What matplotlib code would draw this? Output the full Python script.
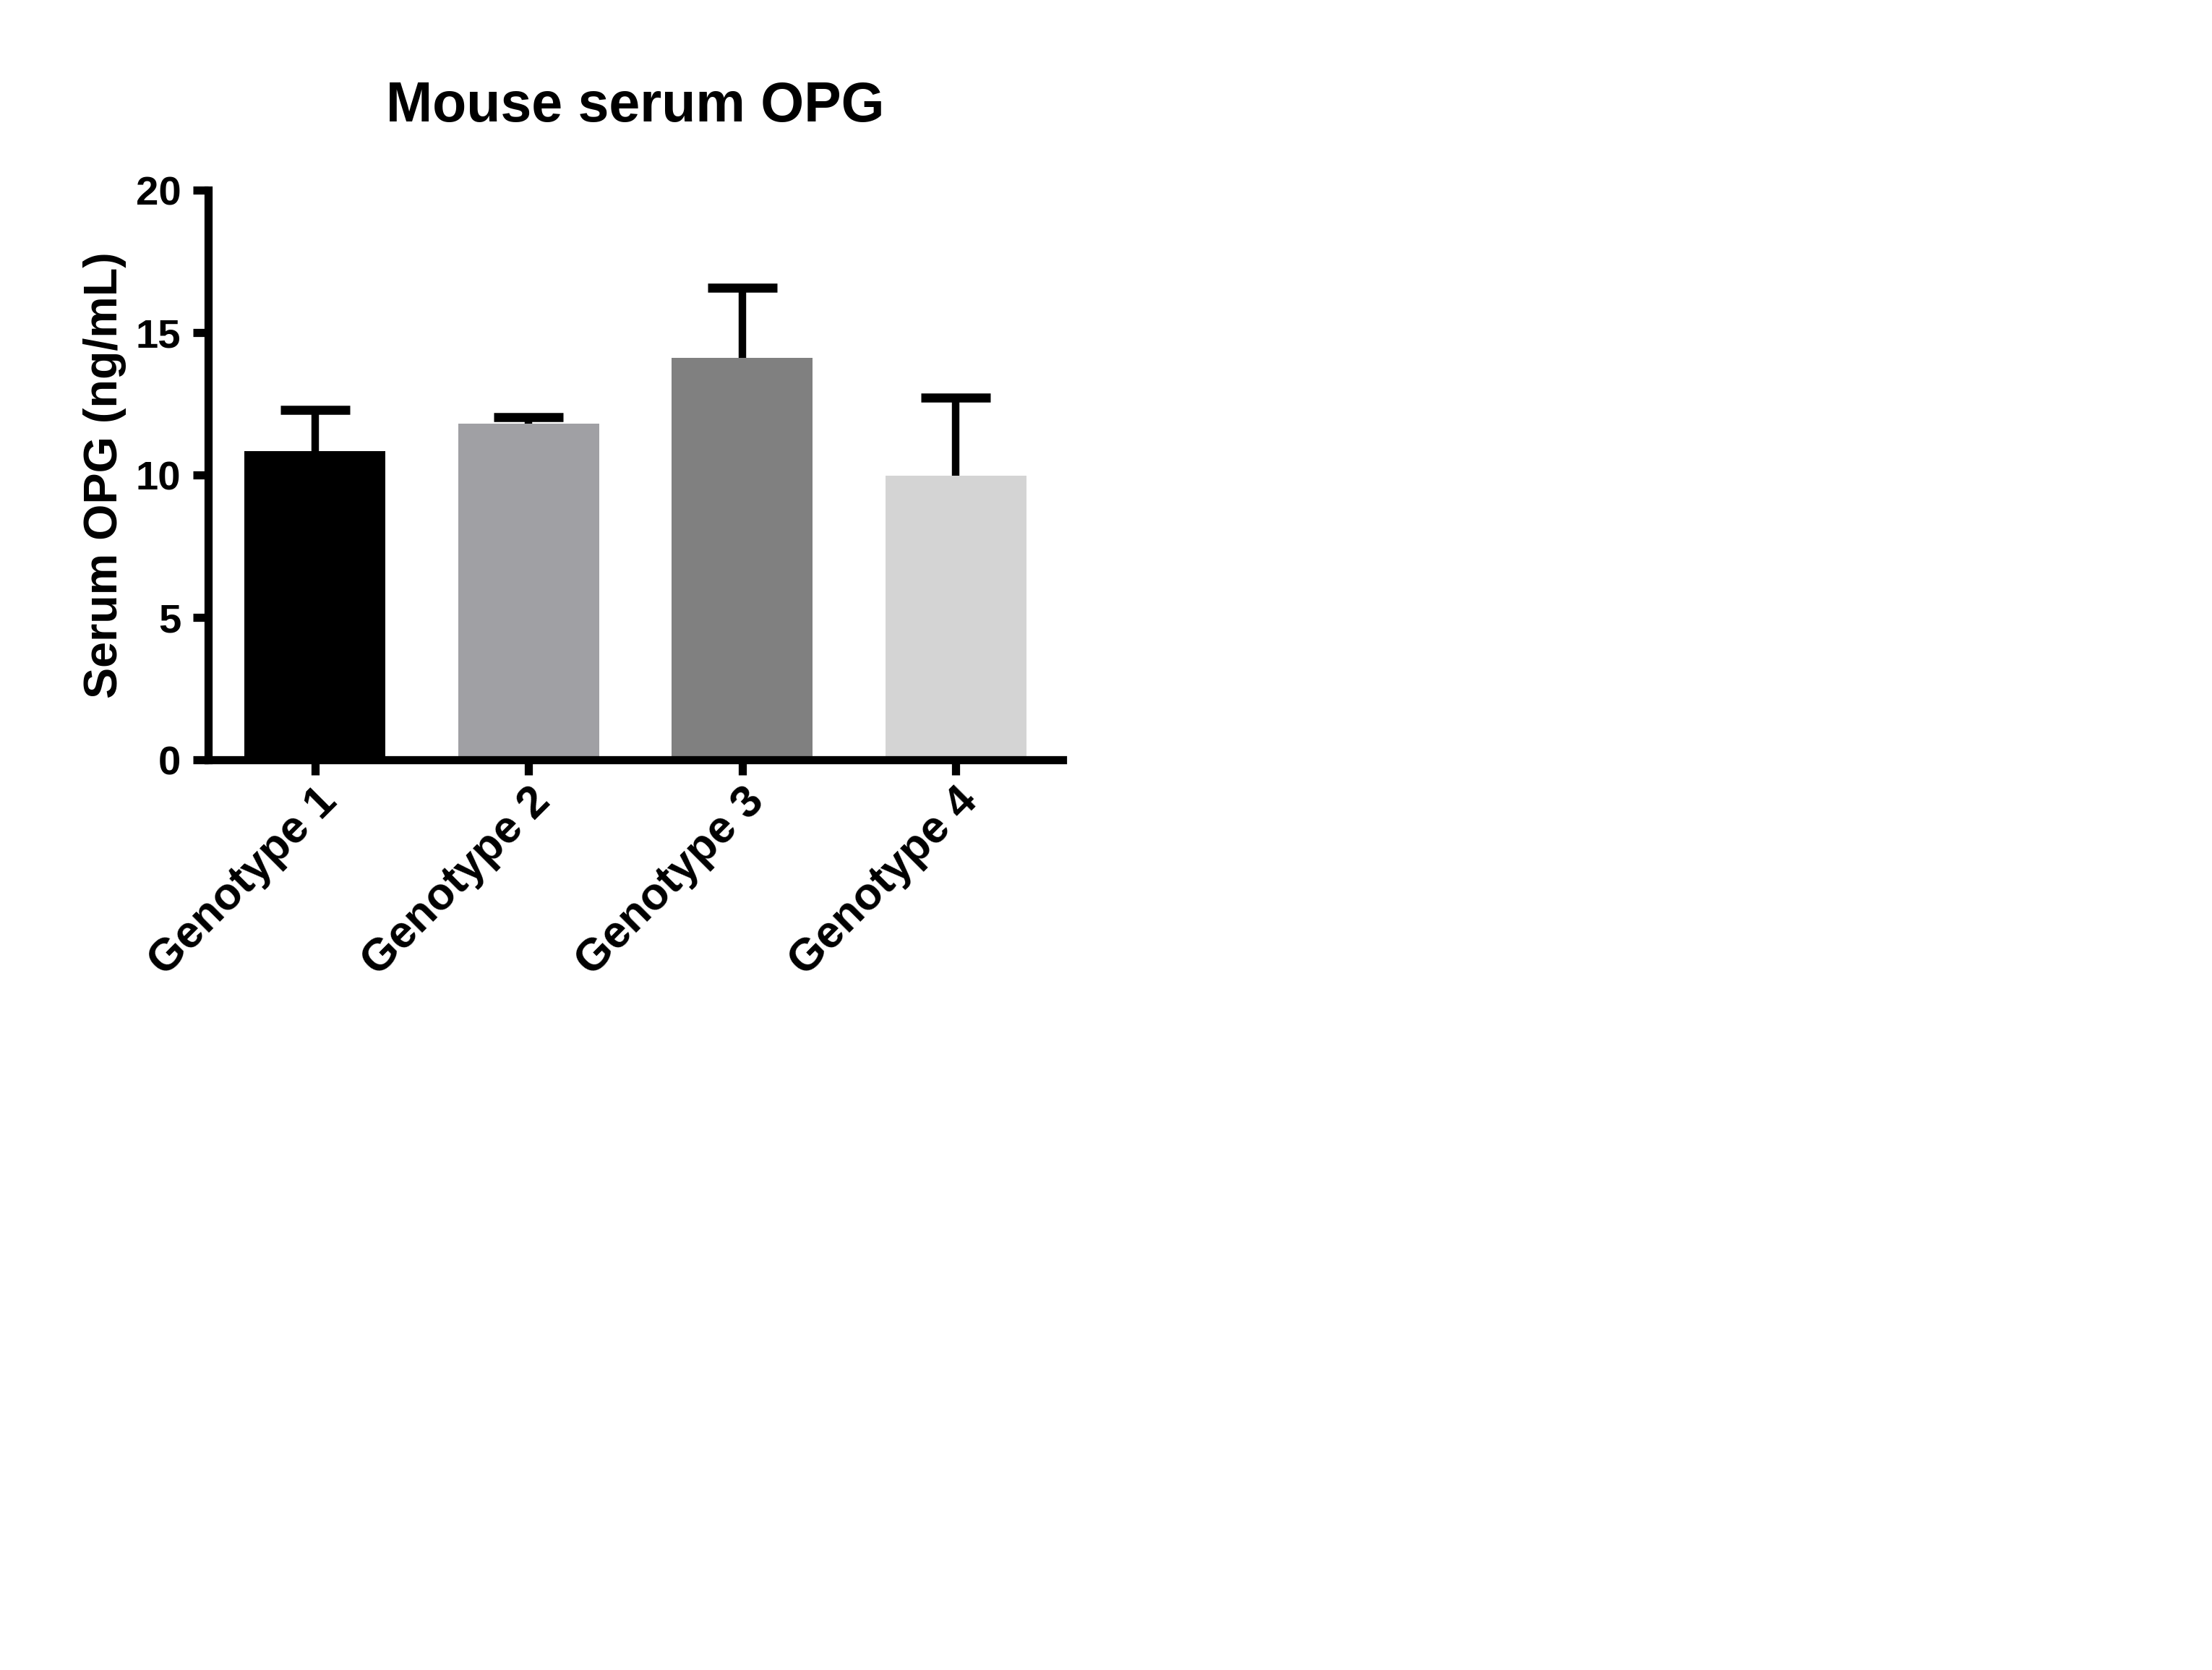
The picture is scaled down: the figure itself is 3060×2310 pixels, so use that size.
import numpy as np
import matplotlib.pyplot as plt

plt.rcParams['font.family'] = ['Liberation Sans', 'DejaVu Sans']
plt.rcParams['font.weight'] = 'bold'

# data
genotypes = ['Genotype 1', 'Genotype 2', 'Genotype 3', 'Genotype 4']
mean_opg = [10.85, 11.8, 14.12, 9.97]
sd_opg = [1.45, 0.23, 2.45, 2.75]
bar_colors = ['#000000', '#a0a0a4', '#808080', '#d4d4d4']

fig = plt.figure(figsize=(10.2, 7.7), dpi=300)
ax = fig.add_axes([0.0941, 0.545, 0.3863, 0.341])

x = np.arange(len(genotypes))
ax.bar(x, mean_opg, width=0.66, color=bar_colors, zorder=2)
eb = ax.errorbar(x, mean_opg, yerr=[np.zeros(len(sd_opg)), sd_opg], fmt='none',
                 ecolor='black', elinewidth=2.5, capsize=11.5, capthick=3.0, zorder=1)
# only the upper cap is shown
eb[1][0].set_visible(False)

ax.set_xlim(-0.5, 3.5)
ax.set_ylim(0, 20)
ax.set_yticks([0, 5, 10, 15, 20])
ax.set_xticks(x)
ax.set_xticklabels(genotypes, rotation=45, ha='right', rotation_mode='anchor')

for s in ['top', 'right']:
    ax.spines[s].set_visible(False)
for s in ['left', 'bottom']:
    ax.spines[s].set_linewidth(2.7)
ax.tick_params(axis='both', width=2.7, length=5, pad=4)
ax.tick_params(axis='y', labelsize=13.5)
ax.tick_params(axis='x', labelsize=15, pad=1.5)

ax.set_ylabel('Serum OPG (ng/mL)', fontsize=15.5, fontweight='bold', labelpad=3)
ax.set_title('Mouse serum OPG', fontsize=18.5, fontweight='bold', pad=23)

fig.savefig('out.png', dpi=300)
